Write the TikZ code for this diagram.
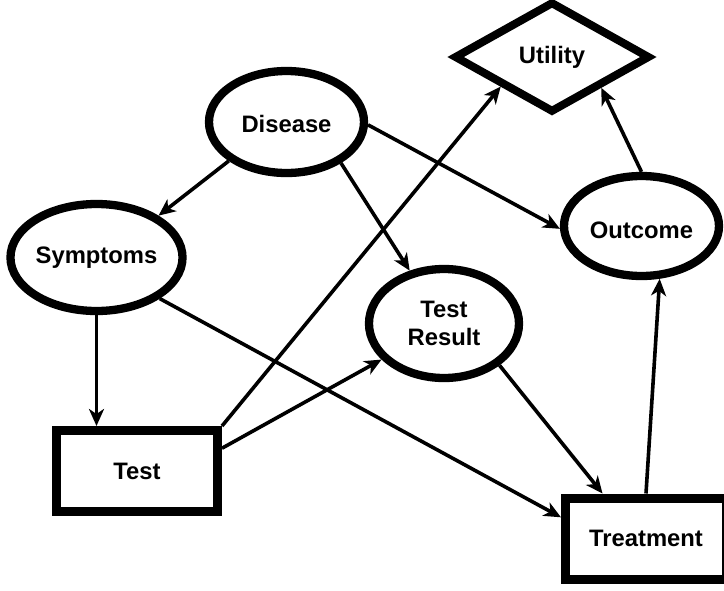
\documentclass[tikz,border=0pt]{standalone}
\usepackage{fontspec}
\setmainfont{Liberation Sans}
\usetikzlibrary{shapes.geometric,arrows.meta}
\begin{document}
\begin{tikzpicture}[x=1pt,y=-1pt,
  lbl/.style={font=\bfseries\fontsize{23.8}{27.5}\selectfont, align=center},
  chance/.style={lbl, ellipse, draw, line width=8.3pt, fill=white, inner sep=0pt},
  decision/.style={lbl, rectangle, draw, line width=9pt, fill=white,
                   minimum width=161pt, minimum height=81pt, inner sep=0pt},
  utilnode/.style={lbl, diamond, draw, line width=8pt, fill=white,
                   minimum width=196pt, minimum height=111pt, inner sep=0pt},
  arr/.style={line width=3.6pt, -{Stealth[length=17pt,width=15pt,inset=5pt]}}
]
\useasboundingbox (0,0) rectangle (724,590);
\clip (0,0) rectangle (724,590);
\fill[white] (0,0) rectangle (724,590);

% chance nodes
\node[chance, minimum width=155pt, minimum height=102pt, text height=21pt] (D) at (286.5,122) {Disease};
\node[chance, minimum width=159pt, minimum height=107pt] (S) at (96.5,257.5) {Symptoms};
\node[chance, minimum width=155pt, minimum height=100pt, text height=26pt] (O) at (641.5,226) {Outcome};
\node[chance, minimum width=150pt, minimum height=109pt] (TR) at (444,323.5) {Test\\Result};

% decision nodes
\node[decision] (T) at (137,471) {Test};
\node[decision] (Tr) at (646,538.5) {Treatment};

% utility node
\node[utilnode] (U) at (552,57) {Utility};

% influences
\draw[arr] (D.214) -- (S.34);
\draw[arr] (D.-37) -- (TR.123);
\draw[arr] (D.-2) -- (O.182);
\draw[arr] (S.south) -- (S.south |- T.north);
\draw[arr] (S.-33) -- (Tr.166);
\draw[arr] (T.north east) -- (U.210.6);
\draw[arr] (T.15) -- (TR.210);
\draw[arr] (TR.-37) -- (Tr.134);
\draw[arr] (Tr.north) -- (O.-71);
\draw[arr] (O.north) -- (U.-32);
\end{tikzpicture}
\end{document}
